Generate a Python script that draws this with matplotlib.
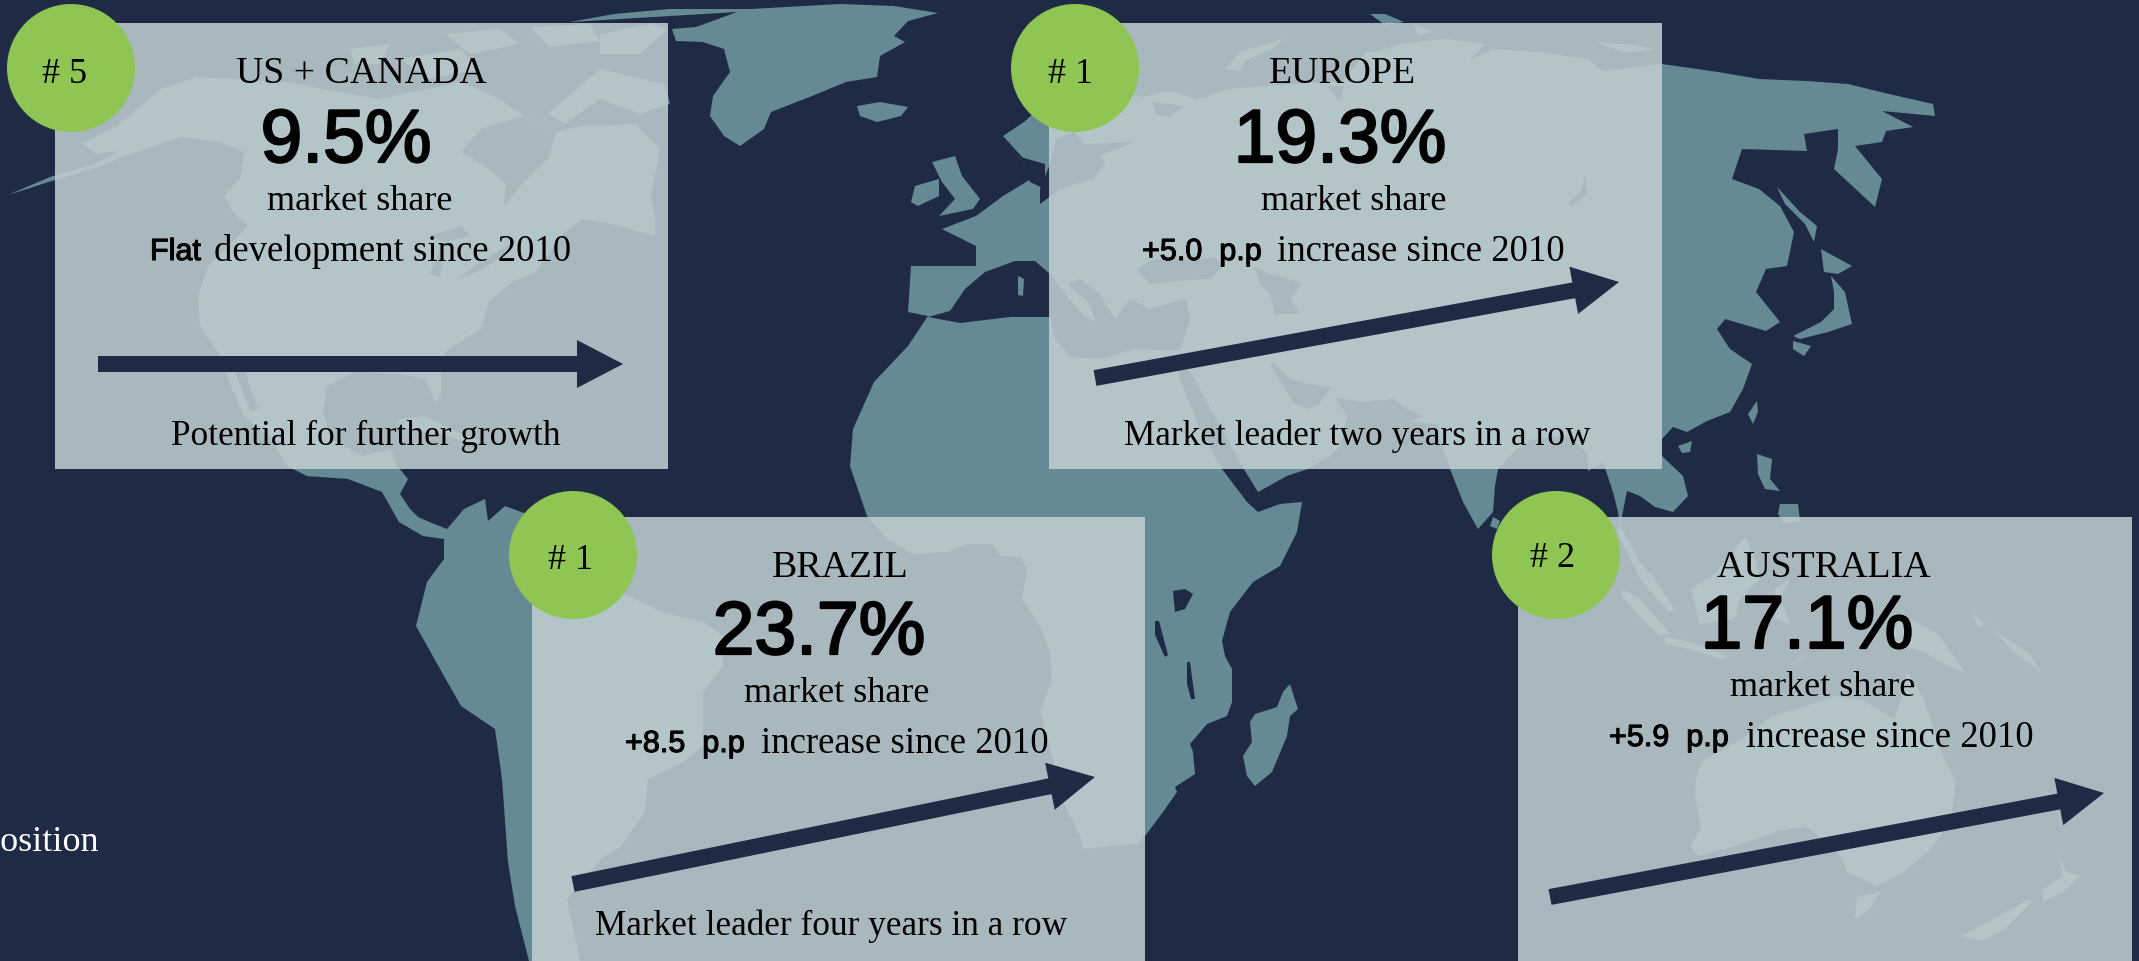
import matplotlib
matplotlib.use('Agg')
import matplotlib.pyplot as plt
import matplotlib.patheffects as pe
from matplotlib.patches import Polygon, Rectangle, Circle

# card content
regions = ['US + CANADA', 'EUROPE', 'BRAZIL', 'AUSTRALIA']
ranks = ['# 5', '# 1', '# 1', '# 2']
shares = ['9.5%', '19.3%', '23.7%', '17.1%']
changes = ['Flat', '+5.0  p.p', '+8.5  p.p', '+5.9  p.p']
change_texts = ['development since 2010', 'increase since 2010', 'increase since 2010', 'increase since 2010']
notes = ['Potential for further growth', 'Market leader two years in a row', 'Market leader four years in a row', '']

# colours
BG = '#1f2a44'
LAND = '#668a94'
BOX = '#c1cfd3'
GREEN = '#8fc552'

# map outlines, in pixels of the picture
americas = [(8,196),(55,181),(101,167),(125,157),(180,138),(220,143),(244,153),(240,180),(224,197),(236,217),(248,227),
            (208,267),(198,297),(200,327),(220,357),(228,380),(244,417),(271,440),(287,467),(307,477),(348,480),(382,493),
            (399,523),(423,537),(444,540),(444,560),(427,583),(416,627),(444,677),(461,707),(495,730),(502,780),(508,863),
            (515,907),(529,962),(580,962),(567,900),(601,860),(621,847),(645,813),(648,780),(683,763),(703,747),(703,693),
            (723,667),(723,637),(703,623),(662,613),(621,593),(585,560),(532,517),(505,507),(488,522),(485,500),(464,510),
            (447,530),(427,522),(418,518),(410,510),(400,495),(408,480),(398,468),(390,450),(362,457),(331,440),(323,413),
            (327,387),(354,373),(400,375),(425,380),(435,403),(441,397),(441,373),(445,353),(481,330),(489,303),(512,283),
            (536,273),(560,237),(584,220),(619,227),(655,237),(655,217),(651,197),(660,150),(635,125),(580,127),(556,133),
            (524,117),(500,100),(461,83),(378,100),(287,83),(196,78),(161,90),(117,127),(82,145),(97,155),(120,152),(95,165),
            (50,178)]
baffin = [(548,115),(600,70),(665,85),(670,105),(640,115),(600,100),(565,125)]
arctic_1 = [(445,35),(500,30),(520,45),(470,55)]
arctic_2 = [(530,28),(590,25),(600,42),(550,48)]
arctic_3 = [(600,35),(650,25),(668,30),(640,55),(600,55)]
victoria_isl = [(400,60),(460,50),(480,70),(430,80)]
banks_isl = [(350,50),(390,45),(380,65),(355,65)]
cuba = [(398,420),(425,417),(450,430),(480,442),(470,445),(440,435),(400,428)]
greenland = [(570,23),(614,15),(669,10),(751,10),(840,5),(894,7),(938,14),(908,22),(894,37),(905,43),(880,57),(877,78),
             (846,83),(812,97),(771,113),(764,130),(740,147),(724,137),(710,117),(713,97),(730,73),(724,50),(703,43),
             (676,42),(672,30),(696,28),(737,13)]
iceland = [(857,107),(880,103),(908,108),(901,117),(877,123),(860,117)]
ireland = [(915,187),(939,180),(939,197),(918,207),(911,203)]
britain = [(932,163),(955,157),(962,177),(980,200),(973,210),(939,217),(955,200),(942,183)]
afro_eurasia = [(928,317),(908,347),(874,383),(853,430),(850,467),(867,517),(887,540),(913,555),(947,553),(967,545),(993,545),
                (1000,557),(1020,558),(1027,570),(1022,600),(1040,627),(1050,653),(1052,680),(1040,713),(1053,760),(1063,803),
                (1080,837),(1083,850),(1103,848),(1137,845),(1145,837),(1163,813),(1177,793),(1175,788),(1195,775),(1193,753),
                (1190,745),(1207,725),(1227,717),(1232,703),(1232,670),(1225,657),(1222,642),(1230,613),(1253,583),(1280,567),
                (1297,533),(1302,503),(1280,505),(1258,513),(1247,503),(1222,470),(1200,430),(1178,375),(1183,368),(1190,372),
                (1205,400),(1245,472),(1258,493),(1287,477),(1308,470),(1330,457),(1340,447),(1347,417),(1330,390),(1317,407),
                (1307,410),(1293,403),(1270,365),(1273,363),(1290,380),(1310,385),(1330,388),(1333,398),(1360,403),(1393,400),
                (1407,410),(1423,417),(1410,423),(1438,425),(1440,440),(1450,470),(1463,503),(1478,530),(1493,513),(1495,487),
                (1498,470),(1517,450),(1533,440),(1567,437),(1587,453),(1588,472),(1603,463),(1613,493),(1618,513),(1620,527),
                (1640,563),(1655,580),(1676,613),(1668,612),(1640,580),(1617,533),(1622,517),(1627,492),(1640,497),(1655,508),
                (1673,513),(1688,497),(1683,477),(1662,457),(1662,440),(1673,428),(1687,433),(1707,422),(1730,413),(1743,390),
                (1752,365),(1730,350),(1717,330),(1732,312),(1725,320),(1766,332),
                (1780,323),(1756,293),(1766,270),(1787,267),(1794,233),(1780,207),(1759,190),(1732,180),(1742,150),(1807,152),
                (1804,135),(1838,130),(1838,150),(1834,170),(1875,208),(1882,180),(1855,147),(1882,143),(1886,132),(1913,128),
                (1882,112),(1935,117),(1933,105),(1889,95),(1848,85),(1807,82),(1759,80),(1718,73),(1662,65),(1603,72),(1587,60),
                (1540,53),(1493,50),(1469,62),(1485,45),(1445,40),(1398,45),(1378,53),(1366,53),(1342,83),(1327,83),(1295,85),
                (1228,90),(1208,97),(1196,100),(1170,92),(1141,98),(1100,85),(1060,90),(1024,123),(1003,137),(1024,160),(1017,157),
                (1024,163),(1031,180),(1003,197),(976,217),(942,230),(976,247),(976,267),(911,267),(908,313)]
madagascar = [(1290,685),(1298,710),(1290,717),(1287,737),(1272,773),(1255,787),(1247,777),(1243,757),(1252,743),(1250,723),
              (1255,715),(1277,708),(1283,693)]
sakhalin = [(1777,188),(1800,213),(1817,227),(1814,243),(1805,225),(1785,205)]
hokkaido = [(1821,250),(1852,267),(1838,275),(1824,273)]
honshu = [(1831,277),(1845,293),(1848,307),(1852,325),(1828,333),(1800,340),(1793,337),(1821,323),(1834,310),(1834,293)]
kyushu = [(1793,342),(1811,347),(1804,357),(1793,350)]
taiwan = [(1748,415),(1757,402),(1758,413),(1753,425)]
hainan = [(1678,447),(1692,442),(1690,453),(1682,454)]
sri_lanka = [(1493,518),(1500,522),(1497,530),(1490,527)]
luzon = [(1757,455),(1772,460),(1770,480),(1780,492),(1765,490),(1758,475)]
mindanao = [(1780,505),(1798,505),(1800,522),(1785,525),(1778,515)]
sumatra = [(1622,590),(1640,600),(1662,625),(1670,635),(1660,637),(1640,618),(1622,597)]
java = [(1664,638),(1688,642),(1728,657),(1722,660),(1688,650),(1666,645)]
borneo = [(1691,590),(1715,575),(1745,538),(1755,560),(1760,580),(1740,600),(1735,620),(1700,625),(1695,605)]
sulawesi = [(1775,590),(1790,580),(1780,600),(1790,625),(1775,620)]
timor = [(1789,667),(1809,653),(1800,662)]
new_guinea = [(1911,620),(1938,635),(1965,673),(1948,667),(1924,653),(1890,643),(1897,623)]
new_britain = [(1955,638),(1985,625),(1972,613),(1978,628)]
solomon = [(1995,632),(2030,655),(2040,672),(2010,650)]
australia = [(1696,780),(1701,763),(1742,740),(1772,717),(1806,707),(1816,703),(1836,697),(1864,702),(1894,720),(1901,700),
             (1907,673),(1924,700),(1941,753),(1956,783),(1951,820),(1931,850),(1904,873),(1877,887),(1847,873),(1843,860),
             (1820,838),(1806,828),(1779,832),(1735,847),(1698,857),(1690,847),(1701,830),(1695,797)]
tasmania = [(1857,898),(1880,893),(1870,910),(1855,920)]
nz_north = [(2058,853),(2066,873),(2080,877),(2063,893),(2043,903),(2043,890),(2063,877)]
nz_south = [(2029,900),(2032,903),(2005,930),(1982,942),(1961,937),(1988,923)]
novaya = [(1225,70),(1240,53),(1283,40),(1272,50),(1245,62),(1240,72)]
svalbard = [(1370,15),(1385,15),(1404,23),(1385,26)]
franz = [(1414,25),(1433,33),(1418,36)]
siberian_isl = [(1595,43),(1625,45),(1655,50),(1625,54)]

lands = [americas, baffin, arctic_1, arctic_2, arctic_3, victoria_isl, banks_isl, cuba, greenland, iceland, ireland, britain,
         afro_eurasia, madagascar, sakhalin, hokkaido, honshu, kyushu, taiwan, hainan, sri_lanka, luzon, mindanao, sumatra,
         java, borneo, sulawesi, timor, new_guinea, new_britain, solomon, australia, tasmania, nz_north, nz_south, novaya,
         svalbard, franz, siberian_isl]

# seas and lakes inside the land
hudson = [(461,153),(481,130),(524,117),(556,133),(548,160),(524,183),(504,207),(506,185),(485,167)]
superior = [(430,237),(461,227),(469,237),(445,243)]
michigan = [(430,275),(440,250),(445,252),(440,278)]
huron = [(457,280),(485,260),(510,245),(505,255),(480,272)]
cortez = [(235,372),(245,372),(258,410),(250,412)]
baltic = [(1040,190),(1050,165),(1056,140),(1075,133),(1084,145),(1133,143),(1100,157),(1105,165),(1093,180),(1060,190),(1040,205)]
skagerrak = [(1017,157),(1045,165),(1045,190),(1030,183),(1024,163)]
white_sea = [(1153,103),(1184,107),(1169,118),(1155,115)]
ob_gulf = [(1327,87),(1344,87),(1340,103)]
med = [(928,318),(950,312),(965,290),(985,273),(1015,262),(1035,262),(1050,275),(1065,295),(1085,318),(1095,322),(1090,305),
       (1068,285),(1080,280),(1100,295),(1115,320),(1130,300),(1150,310),(1186,300),(1190,320),(1180,352),(1135,350),(1100,360),
       (1070,358),(1055,340),(1050,318),(1010,318),(960,324)]
black_sea = [(1137,270),(1150,262),(1170,258),(1190,262),(1215,258),(1222,268),(1210,280),(1180,282),(1150,285)]
caspian = [(1254,267),(1270,275),(1290,280),(1302,285),(1290,300),(1300,315),(1275,315),(1270,295),(1260,285)]
baikal = [(1585,177),(1587,195),(1572,207),(1568,204),(1581,192)]
victoria_lake = [(1173,592),(1185,590),(1193,595),(1185,610),(1175,613)]
tanganyika = [(1155,622),(1159,622),(1168,656),(1165,658),(1155,636)]
malawi = [(1187,663),(1190,663),(1195,700),(1191,700),(1187,685)]

waters = [hudson, superior, michigan, huron, cortez, baltic, skagerrak, white_sea, ob_gulf, med, black_sea, caspian, baikal,
          victoria_lake, tanganyika, malawi]

# land that sits inside the seas above
corsica = [(1018,277),(1024,280),(1023,297),(1018,296)]

# layout of the cards, pixels
box_rects = [(55,24,613,446), (1049,24,613,446), (532,518,613,444), (1518,518,614,444)]
circles = [(71,69), (1075,69), (573,556), (1556,556)]
arrows = [((98,365),(623,365)), ((1095,379),(1619,283)), ((573,885),(1095,778)), ((1550,898),(2104,794))]
rank_pos = [(65,83), (1071,83), (570,569), (1553,567)]
title_pos = [(361,83), (1343,83), (840,577), (1824,577)]
share_pos = [(346,163), (1340,163), (819,655), (1807,649)]
market_pos = [(360,210), (1354,210), (837,702), (1823,696)]
change_x = [150, 1142, 625, 1609]
text_x = [214, 1277, 761, 1746]
change_y = [261, 261, 753, 747]
note_pos = [(366,445), (1357,445), (831,935), (0,0)]

SERIF = 'Liberation Serif'
SANS = 'Liberation Sans'

fig = plt.figure(figsize=(21.39, 9.62), dpi=100, facecolor=BG)
ax = fig.add_axes([0, 0, 1, 1])
ax.set_xlim(0, 2139)
ax.set_ylim(962, 0)
ax.axis('off')

for shape in lands:
    ax.add_patch(Polygon(shape, closed=True, fc=LAND, ec='none', zorder=1))
for shape in waters:
    ax.add_patch(Polygon(shape, closed=True, fc=BG, ec='none', zorder=2))
ax.add_patch(Polygon(corsica, closed=True, fc=LAND, ec='none', zorder=2))

for i in range(4):
    x, y, w, h = box_rects[i]
    ax.add_patch(Rectangle((x, y), w, h, fc=BOX, ec='none', alpha=0.86, zorder=3))
    start, end = arrows[i]
    ax.arrow(start[0], start[1], end[0]-start[0], end[1]-start[1], width=16, head_width=48, head_length=46,
             length_includes_head=True, fc=BG, ec='none', zorder=4)
    ax.add_patch(Circle(circles[i], 64, fc=GREEN, ec='none', zorder=5))

    ax.text(rank_pos[i][0], rank_pos[i][1], ranks[i], family=SERIF, fontsize=26, ha='center', va='baseline', color='black', zorder=6)
    ax.text(title_pos[i][0], title_pos[i][1], regions[i], family=SERIF, fontsize=27.3, ha='center', va='baseline', color='black', zorder=6)
    # the big numbers and the change labels are regular type thickened by an outline
    t = ax.text(share_pos[i][0], share_pos[i][1], shares[i], family=SANS, fontsize=54, ha='center', va='baseline', color='black', zorder=6)
    t.set_path_effects([pe.withStroke(linewidth=1.6, foreground='black')])
    ax.text(market_pos[i][0], market_pos[i][1], 'market share', family=SERIF, fontsize=26, ha='center', va='baseline', color='black', zorder=6)
    t = ax.text(change_x[i], change_y[i], changes[i], family=SANS, fontsize=22, ha='left', va='baseline', color='black', zorder=6)
    t.set_path_effects([pe.withStroke(linewidth=0.8, foreground='black')])
    ax.text(text_x[i], change_y[i], change_texts[i], family=SERIF, fontsize=26.5, ha='left', va='baseline', color='black', zorder=6)
    if notes[i]:
        ax.text(note_pos[i][0], note_pos[i][1], notes[i], family=SERIF, fontsize=25.4, ha='center', va='baseline', color='black', zorder=6)

# legend word cut off at the left edge
ax.text(99, 851, 'Position', family=SERIF, fontsize=26, ha='right', va='baseline', color='white', zorder=6)

fig.savefig('out.png', dpi=100, facecolor=BG)
